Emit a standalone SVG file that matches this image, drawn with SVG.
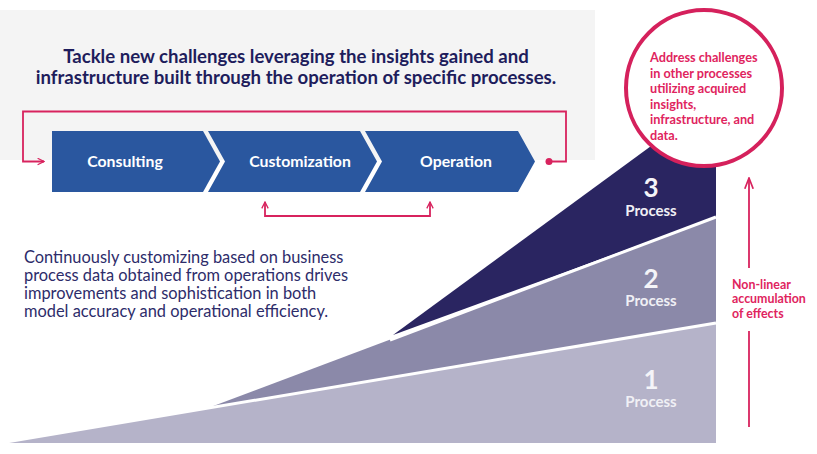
<svg xmlns="http://www.w3.org/2000/svg" width="817" height="454" viewBox="0 0 817 454">
<defs>
<style>
.hd{font-family:Lato,"Liberation Sans",sans-serif;font-weight:bold;font-size:18.6px;fill:#1e1d5c;text-anchor:middle}
.bd{font-family:Lato,"Liberation Sans",sans-serif;font-size:16.4px;fill:#2d2c6a}
.ch{font-family:Lato,"Liberation Sans",sans-serif;font-weight:bold;font-size:15.8px;fill:#fff;text-anchor:middle}
.pk{font-family:Lato,"Liberation Sans",sans-serif;font-weight:bold;font-size:12.7px;fill:#e0245e}
.pk2{font-family:Lato,"Liberation Sans",sans-serif;font-weight:bold;font-size:12.4px;fill:#e0245e}
.num{font-family:Lato,"Liberation Sans",sans-serif;font-weight:bold;font-size:26px;fill:#f4f4f8;text-anchor:middle}
.pr{font-family:Lato,"Liberation Sans",sans-serif;font-weight:bold;font-size:15px;fill:#f0f0f5;text-anchor:middle}
.ln{fill:none;stroke:#d8235e;stroke-width:1.8}
.chev{fill:#2a579f}
</style>
<marker id="ah" viewBox="0 0 10 10" refX="9" refY="5" markerWidth="8" markerHeight="8" markerUnits="userSpaceOnUse" orient="auto">
<path d="M1,1 L9,5 L1,9" fill="none" stroke="#d8235e" stroke-width="1.6"/>
</marker>
<marker id="ah2" viewBox="0 0 10 10" refX="9" refY="5" markerWidth="12" markerHeight="12" markerUnits="userSpaceOnUse" orient="auto">
<path d="M0,1.5 L9,5 L0,8.5" fill="none" stroke="#d8235e" stroke-width="1.4"/>
</marker>
</defs>
<rect x="0" y="0" width="817" height="454" fill="#ffffff"/>
<rect x="0" y="10" width="595" height="150" fill="#f4f4f4"/>

<g id="headline">
<text class="hd" x="296" y="63">Tackle new challenges leveraging the insights gained and</text>
<text class="hd" x="296" y="84">infrastructure built through the operation of specific processes.</text>
</g>

<g id="mountain">
<polygon id="process1" points="0,443 716,323 716,443" fill="#b5b3c9"/>
<polygon id="process2" points="208,408 716,217 716,323" fill="#8b89a9"/>
<polygon id="process3" points="393,335 662,138 716,138 716,217" fill="#2a2561"/>
<line x1="0" y1="443" x2="716" y2="323" stroke="#fff" stroke-width="3"/>
<line x1="390" y1="340" x2="716" y2="217" stroke="#fff" stroke-width="3"/>
</g>

<g id="connectors">
<polyline class="ln" points="549,161.5 566,161.5 566,111.5 23,111.5 23,161.5 44,161.5" marker-end="url(#ah)"/>
<circle cx="549" cy="161.5" r="3.5" fill="#d8235e"/>
<polyline class="ln" points="348,216 265,216 265,202" marker-end="url(#ah)"/>
<polyline class="ln" points="347,216 430,216 430,202" marker-end="url(#ah)"/>
<line class="ln" x1="749" y1="427" x2="749" y2="331" stroke-width="2"/>
<line class="ln" x1="749" y1="268" x2="749" y2="178" stroke-width="2" marker-end="url(#ah2)"/>
</g>

<g id="consulting">
<polygon class="chev" points="52,131 203,131 220,161.5 203,192 52,192"/>
<text class="ch" x="125" y="167">Consulting</text>
</g>
<g id="customization">
<polygon class="chev" points="208,131 360,131 377,161.5 360,192 208,192 225,161.5"/>
<text class="ch" x="300" y="167">Customization</text>
</g>
<g id="operation">
<polygon class="chev" points="365,131 518,131 535,161.5 518,192 365,192 382,161.5"/>
<text class="ch" x="456" y="167">Operation</text>
</g>

<g id="description">
<text class="bd" x="24" y="263">Continuously customizing based on business</text>
<text class="bd" x="24" y="281">process data obtained from operations drives</text>
<text class="bd" x="24" y="299">improvements and sophistication in both</text>
<text class="bd" x="24" y="317">model accuracy and operational efficiency.</text>
</g>

<g id="labels">
<text class="num" x="651" y="197">3</text>
<text class="pr" x="651" y="216">Process</text>
<text class="num" x="651" y="288">2</text>
<text class="pr" x="651" y="306">Process</text>
<text class="num" x="651" y="389">1</text>
<text class="pr" x="651" y="407">Process</text>
</g>

<g id="goal">
<circle cx="704" cy="88" r="78" fill="#fff" stroke="#d5215c" stroke-width="4"/>
<text class="pk" x="650" y="62">Address challenges</text>
<text class="pk" x="650" y="77.5">in other processes</text>
<text class="pk" x="650" y="93">utilizing acquired</text>
<text class="pk" x="650" y="108.5">insights,</text>
<text class="pk" x="650" y="124">infrastructure, and</text>
<text class="pk" x="650" y="139.5">data.</text>
</g>

<g id="effects">
<text class="pk2" x="732" y="288.5">Non-linear</text>
<text class="pk2" x="732" y="303">accumulation</text>
<text class="pk2" x="732" y="317.5">of effects</text>
</g>
</svg>
